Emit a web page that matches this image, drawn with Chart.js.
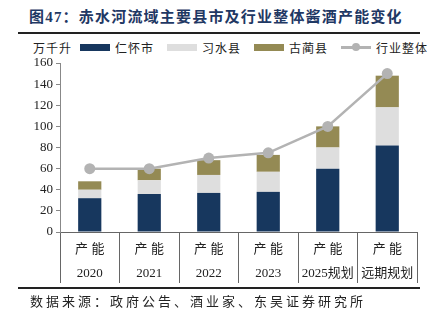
<!DOCTYPE html>
<html><head><meta charset="utf-8">
<script src="https://cdn.jsdelivr.net/npm/chart.js@4.4.1/dist/chart.umd.min.js"></script>
<style>
html,body{margin:0;padding:0;background:#fff;}
body{width:430px;height:322px;position:relative;overflow:hidden;font-family:"Liberation Serif","Noto Sans CJK SC",serif;}
#title{position:absolute;left:29px;top:5px;font:bold 15px "Liberation Serif","Noto Sans CJK SC";color:#1f3864;letter-spacing:1.2px;white-space:nowrap;}
#rule1{position:absolute;left:18px;top:32px;width:402px;height:2px;background:#222;}
#rule2{position:absolute;left:18px;top:287px;width:402px;height:2px;background:#222;}
#src{position:absolute;left:30px;top:291px;font:13px "Noto Sans CJK SC";color:#222;letter-spacing:3px;white-space:nowrap;}
#legend{position:absolute;left:33px;top:39px;height:16px;display:flex;align-items:center;font:12px "Noto Sans CJK SC";color:#222;white-space:nowrap;letter-spacing:1px;}
.box{display:inline-block;width:30px;height:7px;margin-right:5px;}
.item{display:flex;align-items:center;margin-right:13px;}
.ln{position:relative;width:30px;height:10px;margin-right:5px;}
.ln:before{content:"";position:absolute;left:0;right:0;top:4px;height:2.5px;background:#b3b3b3;}
.ln:after{content:"";position:absolute;left:11px;top:1px;width:8px;height:8px;border-radius:50%;background:#b3b3b3;}
#wrap{position:absolute;left:0;top:38px;width:430px;height:250px;}
</style></head>
<body>
<div id="title">图47：赤水河流域主要县市及行业整体酱酒产能变化</div>
<div id="rule1"></div>
<div id="legend">
  <span style="margin-right:8px">万千升</span>
  <span class="item"><span class="box" style="background:#17375e"></span>仁怀市</span>
  <span class="item"><span class="box" style="background:#dedede"></span>习水县</span>
  <span class="item"><span class="box" style="background:#948a54"></span>古蔺县</span>
  <span class="item"><span class="ln"></span>行业整体</span>
</div>
<div id="wrap"><canvas id="c" width="430" height="250"></canvas></div>
<div id="rule2"></div>
<div id="src">数据来源：政府公告、酒业家、东吴证券研究所</div>
<script>
const categories = [["产 能","2020"],["产 能","2021"],["产 能","2022"],["产 能","2023"],["产 能","2025规划"],["产 能","远期规划"]];
const renhuai = [32, 36, 37, 38, 60, 82];
const xishui  = [8, 13, 17, 19, 20, 36];
const gulin   = [8, 11, 14, 16, 20, 30];
const industry = [60, 60, 70, 75, 100, 150];
const yTicks = [0, 20, 40, 60, 80, 100, 120, 140, 160];

const barCommon = {type:'bar', stack:'bars', order:1, barPercentage:0.39, categoryPercentage:1, borderWidth:0};
new Chart(document.getElementById('c'), {
  data: {
    labels: categories,
    datasets: [
      Object.assign({label:'仁怀市', data:renhuai, backgroundColor:'#17375e'}, barCommon),
      Object.assign({label:'习水县', data:xishui, backgroundColor:'#dedede'}, barCommon),
      Object.assign({label:'古蔺县', data:gulin, backgroundColor:'#948a54'}, barCommon),
      {type:'line', label:'行业整体', data:industry, stack:'line', order:0,
       borderColor:'#b3b3b3', backgroundColor:'#b3b3b3', borderWidth:2.5,
       pointRadius:5.5, pointHoverRadius:5.5, pointBackgroundColor:'#b3b3b3', pointBorderWidth:0, tension:0}
    ]
  },
  options: {
    responsive:false, animation:false, devicePixelRatio:1,
    layout:{padding:{left:0, right:13, top:25, bottom:0}},
    plugins:{legend:{display:false}, tooltip:{enabled:false}},
    scales:{
      x:{stacked:true, offset:true,
         grid:{offset:true, drawOnChartArea:false, color:'#666', tickLength:51, lineWidth:1},
         border:{color:'#666'},
         ticks:{padding:-45, color:'#222', font:{family:'"Liberation Serif","Noto Sans CJK SC"', size:13, lineHeight:1.85}, maxRotation:0, autoSkip:false},
         afterFit:(s)=>{s.height = 56;}
      },
      y:{stacked:true, min:0, max:160,
         afterBuildTicks:(s)=>{s.ticks = yTicks.map(v=>({value:v}));},
         grid:{drawOnChartArea:false, color:'#888', tickLength:4},
         border:{color:'#888'},
         ticks:{padding:3, color:'#222', font:{family:'"Liberation Serif"', size:13}},
         afterFit:(s)=>{s.width = 60;}
      }
    }
  }
});
</script>
</body></html>
